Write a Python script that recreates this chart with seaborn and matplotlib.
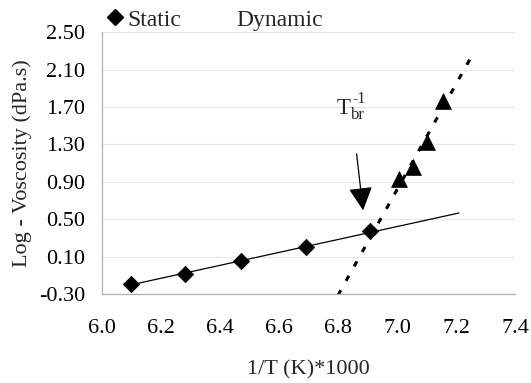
import numpy as np
import pandas as pd
import matplotlib
matplotlib.use("Agg")
import matplotlib.pyplot as plt
from matplotlib.lines import Line2D
import seaborn as sns

# ---- data ----
static_x = [6.10, 6.28, 6.47, 6.69, 6.91]
static_y = [-0.19, -0.08, 0.05, 0.20, 0.37]
dynamic_x = [7.008, 7.055, 7.101, 7.157]
dynamic_y = [0.93, 1.06, 1.33, 1.76]
static_trend_x = [6.10, 7.21]
dynamic_trend_x = [6.80, 7.26]
x_ticks = [6.0, 6.2, 6.4, 6.6, 6.8, 7.0, 7.2, 7.4]
y_ticks = [-0.30, 0.10, 0.50, 0.90, 1.30, 1.70, 2.10, 2.50]
series_labels = ["Static", "Dynamic"]
annot_main, annot_sub, annot_sup = "T", "br", "-1"
annot_pos = (6.795, 1.63)
arrow_tail = (6.863, 1.20)
arrow_tip = (6.885, 0.596)
x_label = "1/T (K)*1000"
y_label = "Log - Voscosity (dPa.s)"

sns.set_style("white")
plt.rcParams["font.family"] = ["Liberation Serif", "DejaVu Serif"]
FS = 16

fig = plt.figure(figsize=(5.31, 3.83), dpi=100)
ax = fig.add_axes([0.192, 0.232, 0.778, 0.684])

# trendlines from linear fits
ps = np.polyfit(static_x, static_y, 1)
pdn = np.polyfit(dynamic_x, dynamic_y, 1)
st = pd.DataFrame({"x": static_trend_x, "y": np.polyval(ps, static_trend_x)})
dt = pd.DataFrame({"x": dynamic_trend_x, "y": np.polyval(pdn, dynamic_trend_x)})

sns.lineplot(data=st, x="x", y="y", ax=ax, color="black", lw=0.9, sort=False)
sns.lineplot(data=dt, x="x", y="y", ax=ax, color="black", lw=2.2, sort=False,
             dashes=False)
ax.lines[-1].set_dashes((1.9, 3.5))

sdf = pd.DataFrame({"x": static_x, "y": static_y})
ddf = pd.DataFrame({"x": dynamic_x, "y": dynamic_y})
sns.scatterplot(data=sdf, x="x", y="y", ax=ax, marker="D", s=70, color="black",
                edgecolor="black", linewidth=0.5, zorder=5)
sns.scatterplot(data=ddf, x="x", y="y", ax=ax, marker="^", s=130, color="black",
                edgecolor="black", linewidth=0.5, zorder=5)

ax.set_xlim(x_ticks[0], x_ticks[-1])
ax.set_ylim(y_ticks[0], y_ticks[-1])
ax.set_xticks(x_ticks)
ax.set_xticklabels([f"{v:.1f}" for v in x_ticks], fontsize=FS)
ax.set_yticks(y_ticks)
ax.set_yticklabels([f"{v:.2f}" for v in y_ticks], fontsize=FS)
ax.set_xlabel(x_label, fontsize=FS, labelpad=16)
ax.set_ylabel(y_label, fontsize=FS, labelpad=5)

ax.yaxis.grid(True, color="#e8e8e8", lw=0.9)
ax.xaxis.grid(False)
ax.set_axisbelow(True)
for s in ["top", "right"]:
    ax.spines[s].set_visible(False)
for s in ["left", "bottom"]:
    ax.spines[s].set_color("#b0b0b0")
    ax.spines[s].set_linewidth(0.9)
ax.tick_params(axis="y", which="major", direction="out", length=4,
               width=0.9, color="#b0b0b0", pad=8, labelcolor="black")
ax.tick_params(axis="x", which="major", direction="out", length=4,
               width=0.9, color="#b0b0b0", pad=14, labelcolor="black")

# annotation arrow
ax.annotate("", xy=arrow_tip, xytext=arrow_tail,
            arrowprops=dict(arrowstyle="-|>,head_length=0.72,head_width=0.37",
                            mutation_scale=20, lw=0.9, color="black",
                            shrinkA=0, shrinkB=0))
# T_br^-1 label
ax.annotate(annot_main, xy=annot_pos, xytext=(0, 0), textcoords="offset points",
            fontsize=FS + 0.5, ha="left", va="baseline")
ax.annotate(annot_sub, xy=annot_pos, xytext=(10.5, -3.8), textcoords="offset points",
            fontsize=FS - 4, ha="left", va="baseline")
ax.annotate(annot_sup, xy=annot_pos, xytext=(11.5, 7.5), textcoords="offset points",
            fontsize=FS - 4.5, ha="left", va="baseline")

# legend
handles = [Line2D([], [], marker="D", color="black", ls="none", markersize=8),
           Line2D([], [], marker="none", ls="none")]
fig.legend(handles, series_labels, loc="center left",
           bbox_to_anchor=(0.203, 0.948), ncol=2, frameon=False, fontsize=FS + 1,
           handlelength=0.6, handletextpad=0.25, columnspacing=1.45,
           borderpad=0, borderaxespad=0)

fig.savefig("out.png", dpi=100)
